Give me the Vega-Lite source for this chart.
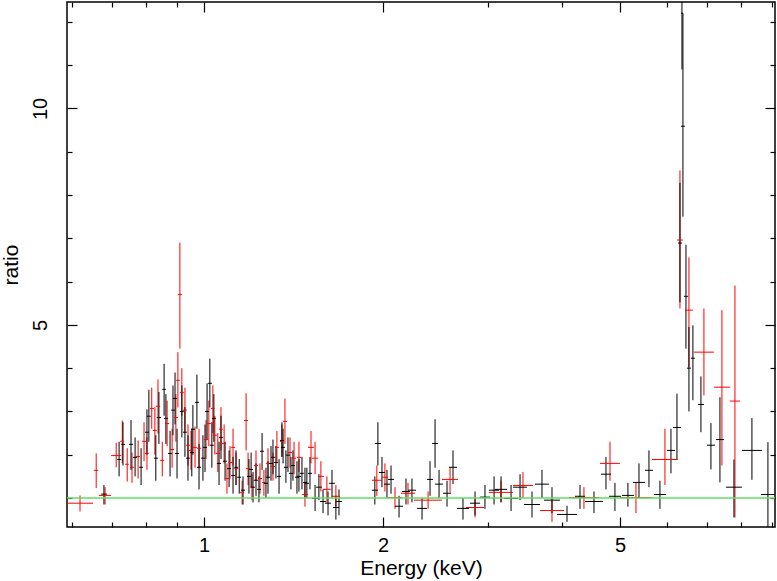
{
  "$schema": "https://vega.github.io/schema/vega-lite/v6.json",
  "width": 708,
  "height": 525,
  "autosize": {"type": "none"},
  "padding": {"left": 67, "top": 2, "right": 2, "bottom": 52},
  "background": "white",
  "config": {
    "view": {"stroke": "#000000", "strokeWidth": 1.5},
    "font": "Liberation Sans",
    "axis": {"grid": false, "domain": false, "tickColor": "#000000", "tickWidth": 1.2, "labelColor": "#000000", "titleColor": "#000000", "labelFont": "Liberation Sans", "titleFont": "Liberation Sans", "labelFontSize": 20, "titleFontSize": 21, "titleFontWeight": "normal"}
  },
  "data": {
    "values": [
      {"s":"r","e":0.619,"el":0.589,"eh":0.651,"r":0.88,"rl":0.69,"rh":1.06},
      {"s":"r","e":0.659,"el":0.653,"eh":0.664,"r":1.64,"rl":1.23,"rh":2.03},
      {"s":"r","e":0.682,"el":0.666,"eh":0.698,"r":1.06,"rl":0.85,"rh":1.25},
      {"s":"r","e":0.712,"el":0.698,"eh":0.726,"r":1.98,"rl":1.71,"rh":2.28},
      {"s":"r","e":0.729,"el":0.723,"eh":0.734,"r":2.31,"rl":1.80,"rh":2.79},
      {"s":"r","e":0.743,"el":0.737,"eh":0.748,"r":1.78,"rl":1.38,"rh":2.15},
      {"s":"r","e":0.757,"el":0.751,"eh":0.763,"r":1.71,"rl":1.35,"rh":2.05},
      {"s":"r","e":0.775,"el":0.769,"eh":0.781,"r":1.96,"rl":1.45,"rh":2.33},
      {"s":"r","e":0.793,"el":0.787,"eh":0.799,"r":2.31,"rl":1.85,"rh":2.75},
      {"s":"r","e":0.802,"el":0.796,"eh":0.808,"r":2.03,"rl":1.65,"rh":2.40},
      {"s":"r","e":0.817,"el":0.811,"eh":0.824,"r":3.07,"rl":2.60,"rh":3.55},
      {"s":"r","e":0.827,"el":0.820,"eh":0.833,"r":2.56,"rl":2.00,"rh":3.10},
      {"s":"r","e":0.837,"el":0.830,"eh":0.844,"r":3.12,"rl":2.49,"rh":3.74},
      {"s":"r","e":0.851,"el":0.844,"eh":0.857,"r":1.87,"rl":1.50,"rh":2.30},
      {"s":"r","e":0.867,"el":0.860,"eh":0.874,"r":2.72,"rl":2.20,"rh":3.25},
      {"s":"r","e":0.884,"el":0.877,"eh":0.891,"r":2.12,"rl":1.70,"rh":2.60},
      {"s":"r","e":0.897,"el":0.891,"eh":0.904,"r":2.86,"rl":2.30,"rh":3.40},
      {"s":"r","e":0.904,"el":0.897,"eh":0.911,"r":3.72,"rl":3.09,"rh":4.37},
      {"s":"r","e":0.911,"el":0.904,"eh":0.918,"r":5.70,"rl":4.45,"rh":6.90},
      {"s":"r","e":0.918,"el":0.911,"eh":0.925,"r":3.44,"rl":2.90,"rh":4.00},
      {"s":"r","e":0.929,"el":0.922,"eh":0.936,"r":3.03,"rl":2.50,"rh":3.55},
      {"s":"r","e":0.940,"el":0.933,"eh":0.947,"r":2.22,"rl":1.75,"rh":2.70},
      {"s":"r","e":0.951,"el":0.943,"eh":0.958,"r":2.10,"rl":1.65,"rh":2.55},
      {"s":"r","e":0.966,"el":0.958,"eh":0.973,"r":2.17,"rl":1.70,"rh":2.65},
      {"s":"r","e":0.981,"el":0.973,"eh":0.989,"r":2.15,"rl":1.70,"rh":2.60},
      {"s":"r","e":1.008,"el":1.000,"eh":1.016,"r":2.35,"rl":1.90,"rh":2.80},
      {"s":"r","e":1.019,"el":1.012,"eh":1.027,"r":2.72,"rl":2.20,"rh":3.25},
      {"s":"r","e":1.035,"el":1.027,"eh":1.043,"r":3.07,"rl":2.50,"rh":3.60},
      {"s":"r","e":1.043,"el":1.035,"eh":1.051,"r":2.45,"rl":2.00,"rh":2.90},
      {"s":"r","e":1.055,"el":1.047,"eh":1.064,"r":2.03,"rl":1.60,"rh":2.50},
      {"s":"r","e":1.068,"el":1.060,"eh":1.076,"r":2.59,"rl":2.10,"rh":3.10},
      {"s":"r","e":1.081,"el":1.072,"eh":1.089,"r":2.26,"rl":1.80,"rh":2.70},
      {"s":"r","e":1.093,"el":1.085,"eh":1.102,"r":1.45,"rl":1.10,"rh":1.80},
      {"s":"r","e":1.106,"el":1.098,"eh":1.115,"r":1.82,"rl":1.45,"rh":2.20},
      {"s":"r","e":1.119,"el":1.111,"eh":1.128,"r":2.17,"rl":1.75,"rh":2.60},
      {"s":"r","e":1.132,"el":1.124,"eh":1.141,"r":1.68,"rl":1.30,"rh":2.05},
      {"s":"r","e":1.159,"el":1.150,"eh":1.168,"r":1.13,"rl":0.85,"rh":1.40},
      {"s":"r","e":1.177,"el":1.168,"eh":1.186,"r":2.79,"rl":2.10,"rh":3.42},
      {"s":"r","e":1.186,"el":1.177,"eh":1.195,"r":1.68,"rl":1.30,"rh":2.05},
      {"s":"r","e":1.204,"el":1.195,"eh":1.213,"r":1.25,"rl":0.95,"rh":1.55},
      {"s":"r","e":1.223,"el":1.213,"eh":1.232,"r":1.75,"rl":1.40,"rh":2.10},
      {"s":"r","e":1.242,"el":1.232,"eh":1.252,"r":1.45,"rl":1.10,"rh":1.80},
      {"s":"r","e":1.261,"el":1.252,"eh":1.271,"r":1.36,"rl":1.05,"rh":1.65},
      {"s":"r","e":1.281,"el":1.271,"eh":1.291,"r":1.80,"rl":1.45,"rh":2.15},
      {"s":"r","e":1.306,"el":1.296,"eh":1.316,"r":1.73,"rl":1.40,"rh":2.05},
      {"s":"r","e":1.326,"el":1.316,"eh":1.337,"r":2.17,"rl":1.80,"rh":2.55},
      {"s":"r","e":1.352,"el":1.342,"eh":1.363,"r":2.31,"rl":1.95,"rh":2.70},
      {"s":"r","e":1.368,"el":1.358,"eh":1.379,"r":2.77,"rl":2.25,"rh":3.30},
      {"s":"r","e":1.395,"el":1.384,"eh":1.406,"r":2.05,"rl":1.70,"rh":2.40},
      {"s":"r","e":1.417,"el":1.406,"eh":1.428,"r":1.92,"rl":1.55,"rh":2.30},
      {"s":"r","e":1.444,"el":1.433,"eh":1.456,"r":1.94,"rl":1.60,"rh":2.30},
      {"s":"r","e":1.478,"el":1.461,"eh":1.495,"r":1.08,"rl":0.80,"rh":1.35},
      {"s":"r","e":1.513,"el":1.495,"eh":1.531,"r":2.17,"rl":1.80,"rh":2.55},
      {"s":"r","e":1.537,"el":1.519,"eh":1.555,"r":1.92,"rl":1.55,"rh":2.30},
      {"s":"r","e":1.572,"el":1.555,"eh":1.591,"r":1.50,"rl":1.15,"rh":1.85},
      {"s":"r","e":1.609,"el":1.585,"eh":1.634,"r":1.20,"rl":0.90,"rh":1.50},
      {"s":"r","e":1.666,"el":1.641,"eh":1.692,"r":1.04,"rl":0.80,"rh":1.30},
      {"s":"r","e":1.952,"el":1.915,"eh":1.991,"r":1.41,"rl":1.05,"rh":1.75},
      {"s":"r","e":2.014,"el":1.991,"eh":2.038,"r":1.48,"rl":1.15,"rh":1.80},
      {"s":"r","e":2.094,"el":2.038,"eh":2.152,"r":1.01,"rl":0.75,"rh":1.25},
      {"s":"r","e":2.202,"el":2.143,"eh":2.263,"r":1.11,"rl":0.85,"rh":1.35},
      {"s":"r","e":2.380,"el":2.254,"eh":2.511,"r":0.95,"rl":0.75,"rh":1.15},
      {"s":"r","e":2.591,"el":2.511,"eh":2.672,"r":1.43,"rl":1.13,"rh":1.71},
      {"s":"r","e":2.854,"el":2.756,"eh":2.955,"r":0.78,"rl":0.55,"rh":1.00},
      {"s":"r","e":3.156,"el":3.012,"eh":3.306,"r":1.13,"rl":0.90,"rh":1.40},
      {"s":"r","e":3.436,"el":3.306,"eh":3.571,"r":1.29,"rl":1.00,"rh":1.60},
      {"s":"r","e":3.844,"el":3.670,"eh":4.027,"r":0.71,"rl":0.45,"rh":0.95},
      {"s":"r","e":4.350,"el":4.105,"eh":4.610,"r":1.01,"rl":0.75,"rh":1.25},
      {"s":"r","e":4.811,"el":4.628,"eh":5.000,"r":1.80,"rl":1.40,"rh":2.30},
      {"s":"r","e":5.320,"el":5.000,"eh":5.659,"r":1.01,"rl":0.65,"rh":1.35},
      {"s":"r","e":5.951,"el":5.659,"eh":6.258,"r":1.89,"rl":1.30,"rh":2.60},
      {"s":"r","e":6.307,"el":6.234,"eh":6.380,"r":6.96,"rl":5.38,"rh":8.57},
      {"s":"r","e":6.530,"el":6.430,"eh":6.631,"r":5.34,"rl":4.02,"rh":6.56},
      {"s":"r","e":6.920,"el":6.657,"eh":7.193,"r":4.37,"rl":3.37,"rh":5.38},
      {"s":"r","e":7.419,"el":7.193,"eh":7.652,"r":3.56,"rl":1.75,"rh":5.34},
      {"s":"r","e":7.802,"el":7.652,"eh":7.954,"r":3.24,"rl":0.55,"rh":5.91},
      {"s":"b","e":0.679,"el":0.672,"eh":0.687,"r":1.09,"rl":0.85,"rh":1.30},
      {"s":"b","e":0.720,"el":0.715,"eh":0.726,"r":1.89,"rl":1.50,"rh":2.30},
      {"s":"b","e":0.731,"el":0.726,"eh":0.737,"r":2.24,"rl":1.75,"rh":2.75},
      {"s":"b","e":0.754,"el":0.748,"eh":0.760,"r":2.24,"rl":1.65,"rh":2.80},
      {"s":"b","e":0.766,"el":0.760,"eh":0.772,"r":1.94,"rl":1.50,"rh":2.40},
      {"s":"b","e":0.784,"el":0.778,"eh":0.790,"r":1.71,"rl":1.30,"rh":2.15},
      {"s":"b","e":0.802,"el":0.796,"eh":0.808,"r":2.52,"rl":2.00,"rh":3.05},
      {"s":"b","e":0.808,"el":0.802,"eh":0.814,"r":2.89,"rl":2.30,"rh":3.50},
      {"s":"b","e":0.830,"el":0.824,"eh":0.837,"r":1.92,"rl":1.40,"rh":2.45},
      {"s":"b","e":0.840,"el":0.833,"eh":0.847,"r":2.86,"rl":2.25,"rh":3.45},
      {"s":"b","e":0.857,"el":0.851,"eh":0.863,"r":3.51,"rl":2.90,"rh":4.10},
      {"s":"b","e":0.863,"el":0.857,"eh":0.870,"r":2.84,"rl":2.25,"rh":3.40},
      {"s":"b","e":0.877,"el":0.870,"eh":0.884,"r":2.03,"rl":1.50,"rh":2.55},
      {"s":"b","e":0.887,"el":0.881,"eh":0.894,"r":3.03,"rl":2.45,"rh":3.60},
      {"s":"b","e":0.894,"el":0.887,"eh":0.901,"r":3.30,"rl":2.70,"rh":3.90},
      {"s":"b","e":0.901,"el":0.894,"eh":0.908,"r":2.03,"rl":1.45,"rh":2.60},
      {"s":"b","e":0.918,"el":0.911,"eh":0.925,"r":3.00,"rl":2.40,"rh":3.60},
      {"s":"b","e":0.929,"el":0.922,"eh":0.936,"r":2.52,"rl":1.95,"rh":3.10},
      {"s":"b","e":0.940,"el":0.933,"eh":0.947,"r":1.92,"rl":1.40,"rh":2.45},
      {"s":"b","e":0.954,"el":0.947,"eh":0.962,"r":2.05,"rl":1.50,"rh":2.60},
      {"s":"b","e":0.958,"el":0.951,"eh":0.966,"r":2.59,"rl":2.00,"rh":3.15},
      {"s":"b","e":0.973,"el":0.966,"eh":0.981,"r":3.21,"rl":2.60,"rh":3.85},
      {"s":"b","e":0.981,"el":0.973,"eh":0.989,"r":1.71,"rl":1.20,"rh":2.25},
      {"s":"b","e":0.996,"el":0.989,"eh":1.004,"r":1.92,"rl":1.40,"rh":2.45},
      {"s":"b","e":1.004,"el":0.996,"eh":1.012,"r":2.17,"rl":1.60,"rh":2.70},
      {"s":"b","e":1.012,"el":1.004,"eh":1.019,"r":3.00,"rl":2.35,"rh":3.65},
      {"s":"b","e":1.023,"el":1.016,"eh":1.031,"r":3.65,"rl":3.09,"rh":4.22},
      {"s":"b","e":1.031,"el":1.023,"eh":1.039,"r":2.22,"rl":1.70,"rh":2.75},
      {"s":"b","e":1.039,"el":1.031,"eh":1.047,"r":2.84,"rl":2.30,"rh":3.40},
      {"s":"b","e":1.060,"el":1.051,"eh":1.068,"r":1.80,"rl":1.30,"rh":2.30},
      {"s":"b","e":1.068,"el":1.060,"eh":1.076,"r":2.40,"rl":1.90,"rh":2.90},
      {"s":"b","e":1.085,"el":1.076,"eh":1.093,"r":1.85,"rl":1.40,"rh":2.30},
      {"s":"b","e":1.102,"el":1.093,"eh":1.110,"r":1.68,"rl":1.25,"rh":2.10},
      {"s":"b","e":1.119,"el":1.111,"eh":1.128,"r":1.52,"rl":1.10,"rh":1.95},
      {"s":"b","e":1.132,"el":1.124,"eh":1.141,"r":1.71,"rl":1.30,"rh":2.10},
      {"s":"b","e":1.146,"el":1.137,"eh":1.154,"r":1.48,"rl":1.10,"rh":1.90},
      {"s":"b","e":1.163,"el":1.154,"eh":1.172,"r":1.18,"rl":0.85,"rh":1.50},
      {"s":"b","e":1.190,"el":1.181,"eh":1.200,"r":1.50,"rl":1.10,"rh":1.90},
      {"s":"b","e":1.200,"el":1.190,"eh":1.209,"r":1.66,"rl":1.25,"rh":2.05},
      {"s":"b","e":1.209,"el":1.200,"eh":1.218,"r":1.25,"rl":0.90,"rh":1.60},
      {"s":"b","e":1.223,"el":1.213,"eh":1.232,"r":1.41,"rl":1.05,"rh":1.80},
      {"s":"b","e":1.237,"el":1.228,"eh":1.247,"r":1.20,"rl":0.90,"rh":1.50},
      {"s":"b","e":1.252,"el":1.242,"eh":1.261,"r":2.08,"rl":1.65,"rh":2.50},
      {"s":"b","e":1.271,"el":1.261,"eh":1.281,"r":1.34,"rl":1.00,"rh":1.70},
      {"s":"b","e":1.281,"el":1.271,"eh":1.291,"r":1.48,"rl":1.10,"rh":1.85},
      {"s":"b","e":1.296,"el":1.286,"eh":1.306,"r":1.80,"rl":1.40,"rh":2.20},
      {"s":"b","e":1.306,"el":1.296,"eh":1.316,"r":1.94,"rl":1.55,"rh":2.35},
      {"s":"b","e":1.321,"el":1.311,"eh":1.331,"r":1.82,"rl":1.45,"rh":2.20},
      {"s":"b","e":1.337,"el":1.326,"eh":1.347,"r":1.50,"rl":1.10,"rh":1.90},
      {"s":"b","e":1.352,"el":1.342,"eh":1.363,"r":2.33,"rl":1.95,"rh":2.75},
      {"s":"b","e":1.358,"el":1.347,"eh":1.368,"r":2.17,"rl":1.80,"rh":2.60},
      {"s":"b","e":1.373,"el":1.363,"eh":1.384,"r":1.71,"rl":1.35,"rh":2.10},
      {"s":"b","e":1.384,"el":1.373,"eh":1.395,"r":1.99,"rl":1.60,"rh":2.40},
      {"s":"b","e":1.400,"el":1.389,"eh":1.411,"r":1.57,"rl":1.20,"rh":1.95},
      {"s":"b","e":1.411,"el":1.400,"eh":1.422,"r":1.75,"rl":1.40,"rh":2.10},
      {"s":"b","e":1.433,"el":1.422,"eh":1.444,"r":1.48,"rl":1.10,"rh":1.85},
      {"s":"b","e":1.444,"el":1.433,"eh":1.456,"r":1.50,"rl":1.15,"rh":1.90},
      {"s":"b","e":1.461,"el":1.450,"eh":1.472,"r":1.57,"rl":1.20,"rh":1.95},
      {"s":"b","e":1.478,"el":1.467,"eh":1.489,"r":1.36,"rl":1.00,"rh":1.70},
      {"s":"b","e":1.489,"el":1.478,"eh":1.501,"r":1.34,"rl":1.00,"rh":1.70},
      {"s":"b","e":1.507,"el":1.495,"eh":1.519,"r":1.57,"rl":1.20,"rh":1.95},
      {"s":"b","e":1.537,"el":1.519,"eh":1.555,"r":0.99,"rl":0.70,"rh":1.30},
      {"s":"b","e":1.560,"el":1.543,"eh":1.578,"r":1.25,"rl":0.95,"rh":1.55},
      {"s":"b","e":1.585,"el":1.566,"eh":1.603,"r":0.92,"rl":0.65,"rh":1.20},
      {"s":"b","e":1.616,"el":1.597,"eh":1.634,"r":0.88,"rl":0.60,"rh":1.15},
      {"s":"b","e":1.641,"el":1.622,"eh":1.660,"r":1.34,"rl":1.00,"rh":1.65},
      {"s":"b","e":1.666,"el":1.647,"eh":1.686,"r":0.78,"rl":0.50,"rh":1.05},
      {"s":"b","e":1.686,"el":1.666,"eh":1.705,"r":0.92,"rl":0.60,"rh":1.20},
      {"s":"b","e":1.937,"el":1.915,"eh":1.960,"r":1.18,"rl":0.85,"rh":1.50},
      {"s":"b","e":1.960,"el":1.937,"eh":1.984,"r":2.26,"rl":1.75,"rh":2.75},
      {"s":"b","e":1.991,"el":1.968,"eh":2.014,"r":1.59,"rl":1.25,"rh":1.95},
      {"s":"b","e":2.030,"el":2.006,"eh":2.054,"r":1.32,"rl":1.00,"rh":1.65},
      {"s":"b","e":2.062,"el":2.038,"eh":2.086,"r":1.43,"rl":1.10,"rh":1.75},
      {"s":"b","e":2.127,"el":2.094,"eh":2.160,"r":0.81,"rl":0.55,"rh":1.05},
      {"s":"b","e":2.185,"el":2.152,"eh":2.219,"r":1.15,"rl":0.85,"rh":1.45},
      {"s":"b","e":2.236,"el":2.202,"eh":2.272,"r":1.18,"rl":0.90,"rh":1.45},
      {"s":"b","e":2.325,"el":2.281,"eh":2.370,"r":0.76,"rl":0.50,"rh":1.00},
      {"s":"b","e":2.398,"el":2.370,"eh":2.426,"r":1.43,"rl":1.05,"rh":1.85},
      {"s":"b","e":2.445,"el":2.417,"eh":2.473,"r":2.26,"rl":1.70,"rh":2.82},
      {"s":"b","e":2.483,"el":2.445,"eh":2.521,"r":1.32,"rl":1.00,"rh":1.65},
      {"s":"b","e":2.561,"el":2.521,"eh":2.601,"r":1.11,"rl":0.80,"rh":1.40},
      {"s":"b","e":2.621,"el":2.581,"eh":2.662,"r":1.71,"rl":1.32,"rh":2.10},
      {"s":"b","e":2.724,"el":2.662,"eh":2.788,"r":0.76,"rl":0.50,"rh":1.00},
      {"s":"b","e":2.854,"el":2.799,"eh":2.910,"r":0.88,"rl":0.60,"rh":1.15},
      {"s":"b","e":2.966,"el":2.910,"eh":3.024,"r":1.02,"rl":0.75,"rh":1.30},
      {"s":"b","e":3.072,"el":3.012,"eh":3.132,"r":1.18,"rl":0.85,"rh":1.50},
      {"s":"b","e":3.156,"el":3.084,"eh":3.230,"r":1.20,"rl":0.90,"rh":1.50},
      {"s":"b","e":3.281,"el":3.193,"eh":3.371,"r":0.99,"rl":0.70,"rh":1.30},
      {"s":"b","e":3.397,"el":3.306,"eh":3.490,"r":1.25,"rl":0.95,"rh":1.55},
      {"s":"b","e":3.558,"el":3.450,"eh":3.670,"r":0.85,"rl":0.55,"rh":1.15},
      {"s":"b","e":3.698,"el":3.599,"eh":3.799,"r":1.32,"rl":1.00,"rh":1.65},
      {"s":"b","e":3.844,"el":3.727,"eh":3.965,"r":0.95,"rl":0.65,"rh":1.25},
      {"s":"b","e":4.074,"el":3.919,"eh":4.235,"r":0.62,"rl":0.45,"rh":0.82},
      {"s":"b","e":4.284,"el":4.202,"eh":4.367,"r":1.04,"rl":0.75,"rh":1.30},
      {"s":"b","e":4.522,"el":4.367,"eh":4.683,"r":0.92,"rl":0.65,"rh":1.15},
      {"s":"b","e":4.737,"el":4.646,"eh":4.830,"r":1.55,"rl":1.20,"rh":1.95},
      {"s":"b","e":4.904,"el":4.792,"eh":5.019,"r":1.04,"rl":0.70,"rh":1.35},
      {"s":"b","e":5.157,"el":5.039,"eh":5.278,"r":1.06,"rl":0.80,"rh":1.35},
      {"s":"b","e":5.382,"el":5.258,"eh":5.508,"r":1.36,"rl":1.00,"rh":1.80},
      {"s":"b","e":5.594,"el":5.508,"eh":5.681,"r":1.64,"rl":1.25,"rh":2.10},
      {"s":"b","e":5.837,"el":5.703,"eh":5.974,"r":1.08,"rl":0.75,"rh":1.40},
      {"s":"b","e":6.091,"el":5.997,"eh":6.186,"r":2.10,"rl":1.57,"rh":2.60},
      {"s":"b","e":6.234,"el":6.138,"eh":6.331,"r":2.63,"rl":1.90,"rh":3.41},
      {"s":"b","e":6.307,"el":6.258,"eh":6.356,"r":6.89,"rl":5.52,"rh":8.28},
      {"s":"b","e":6.380,"el":6.331,"eh":6.430,"r":9.59,"rl":7.50,"rh":12.20},
      {"s":"b","e":6.356,"el":6.331,"eh":6.380,"r":12.20,"rl":10.90,"rh":13.50},
      {"s":"b","e":6.455,"el":6.405,"eh":6.505,"r":5.66,"rl":4.45,"rh":6.85},
      {"s":"b","e":6.530,"el":6.480,"eh":6.580,"r":4.00,"rl":3.00,"rh":4.95},
      {"s":"b","e":6.631,"el":6.580,"eh":6.683,"r":4.23,"rl":3.26,"rh":4.99},
      {"s":"b","e":6.840,"el":6.761,"eh":6.920,"r":3.16,"rl":2.52,"rh":3.81},
      {"s":"b","e":7.110,"el":7.001,"eh":7.221,"r":2.22,"rl":1.66,"rh":2.73},
      {"s":"b","e":7.362,"el":7.249,"eh":7.477,"r":2.35,"rl":1.36,"rh":3.33},
      {"s":"b","e":7.772,"el":7.535,"eh":8.016,"r":1.25,"rl":0.55,"rh":1.89},
      {"s":"b","e":8.332,"el":8.016,"eh":8.661,"r":2.10,"rl":1.42,"rh":2.85},
      {"s":"b","e":8.864,"el":8.627,"eh":9.108,"r":1.08,"rl":0.20,"rh":2.29}
    ]
  },
  "layer": [
    {
      "mark": {"type": "rule", "clip": true, "strokeWidth": 1},
      "encoding": {
        "x": {"field": "e", "type": "quantitative", "scale": {"type": "log", "domain": [0.5886, 9.11], "nice": false},
              "axis": {"orient": "bottom", "values": [1, 2, 5], "format": "~g", "tickSize": -10, "labelPadding": 18, "title": "Energy (keV)", "titlePadding": 2}},
        "y": {"field": "rl", "type": "quantitative", "scale": {"domain": [0.33, 12.46], "nice": false, "zero": false},
              "axis": {"orient": "left", "values": [5, 10], "tickSize": -10, "labelAngle": -90, "labelPadding": 27, "title": "ratio", "titlePadding": 9, "titleFontSize": 21}},
        "y2": {"field": "rh"},
        "color": {"field": "s", "type": "nominal", "scale": {"domain": ["b", "r"], "range": ["#000000", "#ff0000"]}, "legend": null}
      }
    },
    {
      "mark": {"type": "rule", "clip": true, "strokeWidth": 1},
      "encoding": {
        "x": {"field": "el", "type": "quantitative",
              "axis": {"orient": "bottom", "values": [0.6, 0.7, 0.8, 0.9, 3, 4, 6, 7, 8, 9], "tickSize": -5, "labels": false, "title": null}},
        "x2": {"field": "eh"},
        "y": {"field": "r", "type": "quantitative",
              "axis": {"orient": "left", "values": [1, 2, 3, 4, 6, 7, 8, 9, 11, 12], "tickSize": -5, "labels": false, "title": null}},
        "color": {"field": "s", "type": "nominal", "legend": null}
      }
    },
    {
      "mark": {"type": "point", "opacity": 0},
      "encoding": {
        "x": {"field": "e", "type": "quantitative",
              "axis": {"orient": "top", "values": [1, 2, 5], "tickSize": -10, "labels": false, "title": null}},
        "y": {"field": "r", "type": "quantitative",
              "axis": {"orient": "right", "values": [5, 10], "tickSize": -10, "labels": false, "title": null}}
      }
    },
    {
      "mark": {"type": "point", "opacity": 0},
      "encoding": {
        "x": {"field": "e", "type": "quantitative",
              "axis": {"orient": "top", "values": [0.6, 0.7, 0.8, 0.9, 3, 4, 6, 7, 8, 9], "tickSize": -5, "labels": false, "title": null}},
        "y": {"field": "r", "type": "quantitative",
              "axis": {"orient": "right", "values": [1, 2, 3, 4, 6, 7, 8, 9, 11, 12], "tickSize": -5, "labels": false, "title": null}}
      }
    },
    {
      "data": {"values": [{"g": 1}]},
      "mark": {"type": "rule", "color": "#5fde5f", "strokeWidth": 1.5},
      "encoding": {
        "y": {"field": "g", "type": "quantitative", "axis": null}
      }
    }
  ],
  "resolve": {"axis": {"x": "independent", "y": "independent"}}
}
